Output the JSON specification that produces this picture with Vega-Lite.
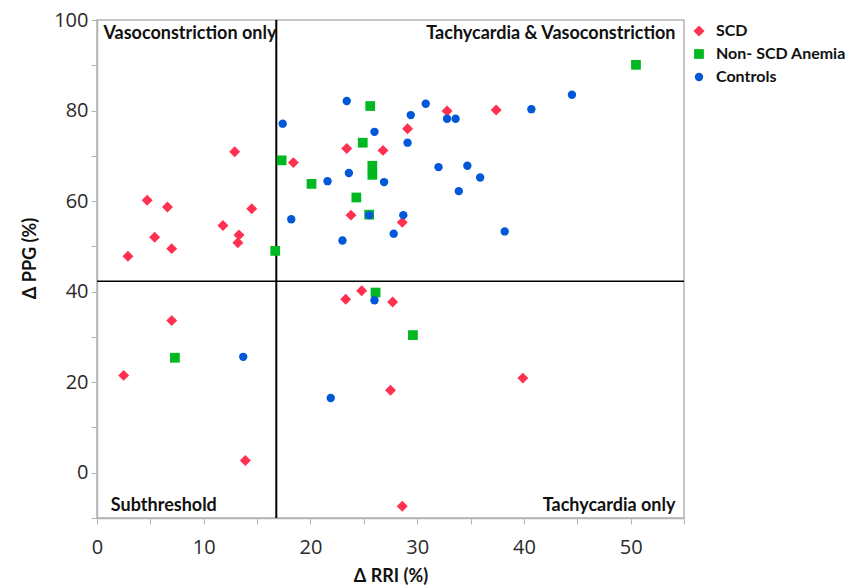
{
  "$schema": "https://vega.github.io/schema/vega-lite/v6.json",
  "width": 587,
  "height": 498,
  "autosize": {"type": "none"},
  "padding": {"left": 97, "top": 20, "right": 164, "bottom": 69},
  "background": "white",
  "config": {
    "view": {"stroke": "#b4b4b4", "strokeWidth": 1.5},
    "axis": {
      "grid": false,
      "domainColor": "#b4b4b4",
      "domainWidth": 1.5,
      "tickColor": "#b4b4b4",
      "tickSize": 6,
      "labelFont": "Open Sans",
      "labelFontSize": 20,
      "labelColor": "#2a2a2a",
      "titleFont": "Lato",
      "titleFontSize": 18,
      "titleFontWeight": "bold",
      "titleColor": "#111111"
    }
  },
  "datasets": {
    "subjects": [
      {"group": "SCD", "rri": 2.9, "ppg": 47.8},
      {"group": "SCD", "rri": 2.5, "ppg": 21.5},
      {"group": "SCD", "rri": 4.7, "ppg": 60.2},
      {"group": "SCD", "rri": 5.4, "ppg": 52.0},
      {"group": "SCD", "rri": 6.6, "ppg": 58.7},
      {"group": "SCD", "rri": 7.0, "ppg": 49.5},
      {"group": "SCD", "rri": 7.0, "ppg": 33.6},
      {"group": "SCD", "rri": 11.8, "ppg": 54.6},
      {"group": "SCD", "rri": 12.9, "ppg": 70.9},
      {"group": "SCD", "rri": 13.2, "ppg": 50.8},
      {"group": "SCD", "rri": 13.3, "ppg": 52.5},
      {"group": "SCD", "rri": 14.5, "ppg": 58.3},
      {"group": "SCD", "rri": 13.9, "ppg": 2.7},
      {"group": "SCD", "rri": 18.4, "ppg": 68.5},
      {"group": "SCD", "rri": 23.4, "ppg": 71.6},
      {"group": "SCD", "rri": 23.8, "ppg": 56.9},
      {"group": "SCD", "rri": 23.3, "ppg": 38.3},
      {"group": "SCD", "rri": 24.8, "ppg": 40.2},
      {"group": "SCD", "rri": 26.8, "ppg": 71.2},
      {"group": "SCD", "rri": 27.7, "ppg": 37.7},
      {"group": "SCD", "rri": 27.5, "ppg": 18.2},
      {"group": "SCD", "rri": 28.6, "ppg": 55.3},
      {"group": "SCD", "rri": 29.1, "ppg": 76.0},
      {"group": "SCD", "rri": 28.6, "ppg": -7.4},
      {"group": "SCD", "rri": 32.8, "ppg": 79.9},
      {"group": "SCD", "rri": 37.4, "ppg": 80.1},
      {"group": "SCD", "rri": 39.9, "ppg": 20.9},
      {"group": "Non- SCD Anemia", "rri": 16.7, "ppg": 49.0},
      {"group": "Non- SCD Anemia", "rri": 17.3, "ppg": 69.0},
      {"group": "Non- SCD Anemia", "rri": 20.1, "ppg": 63.8},
      {"group": "Non- SCD Anemia", "rri": 24.3, "ppg": 60.8},
      {"group": "Non- SCD Anemia", "rri": 24.9, "ppg": 72.9},
      {"group": "Non- SCD Anemia", "rri": 25.6, "ppg": 81.0},
      {"group": "Non- SCD Anemia", "rri": 25.8, "ppg": 67.8},
      {"group": "Non- SCD Anemia", "rri": 25.8, "ppg": 65.8},
      {"group": "Non- SCD Anemia", "rri": 25.5, "ppg": 57.0},
      {"group": "Non- SCD Anemia", "rri": 26.1, "ppg": 39.8},
      {"group": "Non- SCD Anemia", "rri": 29.6, "ppg": 30.4},
      {"group": "Non- SCD Anemia", "rri": 7.3, "ppg": 25.4},
      {"group": "Non- SCD Anemia", "rri": 50.5, "ppg": 90.1},
      {"group": "Controls", "rri": 17.4, "ppg": 77.1},
      {"group": "Controls", "rri": 18.2, "ppg": 56.0},
      {"group": "Controls", "rri": 21.6, "ppg": 64.4},
      {"group": "Controls", "rri": 23.4, "ppg": 82.1},
      {"group": "Controls", "rri": 23.6, "ppg": 66.2},
      {"group": "Controls", "rri": 23.0, "ppg": 51.3},
      {"group": "Controls", "rri": 26.0, "ppg": 75.3},
      {"group": "Controls", "rri": 26.9, "ppg": 64.2},
      {"group": "Controls", "rri": 25.5, "ppg": 56.9},
      {"group": "Controls", "rri": 27.8, "ppg": 52.8},
      {"group": "Controls", "rri": 29.1, "ppg": 72.9},
      {"group": "Controls", "rri": 29.4, "ppg": 79.0},
      {"group": "Controls", "rri": 30.8, "ppg": 81.5},
      {"group": "Controls", "rri": 32.8, "ppg": 78.2},
      {"group": "Controls", "rri": 33.6, "ppg": 78.2},
      {"group": "Controls", "rri": 32.0, "ppg": 67.5},
      {"group": "Controls", "rri": 34.7, "ppg": 67.8},
      {"group": "Controls", "rri": 35.9, "ppg": 65.2},
      {"group": "Controls", "rri": 33.9, "ppg": 62.2},
      {"group": "Controls", "rri": 28.7, "ppg": 56.9},
      {"group": "Controls", "rri": 38.2, "ppg": 53.3},
      {"group": "Controls", "rri": 40.7, "ppg": 80.3},
      {"group": "Controls", "rri": 44.5, "ppg": 83.5},
      {"group": "Controls", "rri": 26.0, "ppg": 38.1},
      {"group": "Controls", "rri": 13.7, "ppg": 25.6},
      {"group": "Controls", "rri": 21.9, "ppg": 16.5}
    ],
    "quadrantsLeft": [
      {"label": "Vasoconstriction only", "rri": 0.6, "ppg": 97.0},
      {"label": "Subthreshold", "rri": 1.3, "ppg": -7.3}
    ],
    "quadrantsRight": [
      {"label": "Tachycardia & Vasoconstriction", "rri": 54.2, "ppg": 97.0},
      {"label": "Tachycardia only", "rri": 54.2, "ppg": -7.3}
    ],
    "thresholdRri": [{"rri": 16.8}],
    "thresholdPpg": [{"ppg": 42.3}]
  },
  "encoding": {
    "x": {
      "field": "rri",
      "type": "quantitative",
      "scale": {"domain": [0, 55], "nice": false, "zero": false},
      "axis": {
        "title": "Δ RRI (%)",
        "values": [0, 5, 10, 15, 20, 25, 30, 35, 40, 45, 50, 55],
        "labelExpr": "datum.value % 10 === 0 ? datum.label : ''",
        "labelPadding": 13,
        "titlePadding": 10,
        "labelFlush": false
      }
    },
    "y": {
      "field": "ppg",
      "type": "quantitative",
      "scale": {"domain": [-10, 100], "nice": false, "zero": false},
      "axis": {
        "title": "Δ PPG (%)",
        "values": [-10, 0, 10, 20, 30, 40, 50, 60, 70, 80, 90, 100],
        "labelExpr": "datum.value % 20 === 0 ? datum.label : ''",
        "labelPadding": 3,
        "titlePadding": 14,
        "titleY": 238,
        "labelFlush": false
      }
    }
  },
  "layer": [
    {
      "data": {"name": "thresholdRri"},
      "mark": {"type": "rule", "color": "#000000", "strokeWidth": 2},
      "encoding": {"x": {"field": "rri", "type": "quantitative"}, "y": null}
    },
    {
      "data": {"name": "thresholdPpg"},
      "mark": {"type": "rule", "color": "#000000", "strokeWidth": 1.5},
      "encoding": {"y": {"field": "ppg", "type": "quantitative"}, "x": null}
    },
    {
      "data": {"name": "subjects"},
      "mark": {"type": "point", "filled": true, "opacity": 1},
      "encoding": {
        "color": {
          "field": "group",
          "type": "nominal",
          "scale": {
            "domain": ["SCD", "Non- SCD Anemia", "Controls"],
            "range": ["#ff3050", "#00b822", "#0058d8"]
          },
          "legend": {
            "title": null,
            "orient": "none",
            "legendX": 594,
            "legendY": 3,
            "labelFont": "Lato",
            "labelFontSize": 16,
            "labelFontWeight": "bold",
            "labelColor": "#111111",
            "labelLimit": 200,
            "symbolSize": 70,
            "rowPadding": 7,
            "labelOffset": 9
          }
        },
        "shape": {
          "field": "group",
          "type": "nominal",
          "scale": {
            "domain": ["SCD", "Non- SCD Anemia", "Controls"],
            "range": ["diamond", "square", "circle"]
          }
        },
        "size": {
          "field": "group",
          "type": "nominal",
          "scale": {
            "domain": ["SCD", "Non- SCD Anemia", "Controls"],
            "range": [120, 70, 90]
          },
          "legend": null
        }
      }
    },
    {
      "data": {"name": "quadrantsLeft"},
      "mark": {"type": "text", "align": "left", "baseline": "middle", "font": "Lato", "fontSize": 18, "fontWeight": "bold", "color": "#111111"},
      "encoding": {"text": {"field": "label"}}
    },
    {
      "data": {"name": "quadrantsRight"},
      "mark": {"type": "text", "align": "right", "baseline": "middle", "font": "Lato", "fontSize": 18, "fontWeight": "bold", "color": "#111111"},
      "encoding": {"text": {"field": "label"}}
    }
  ]
}
